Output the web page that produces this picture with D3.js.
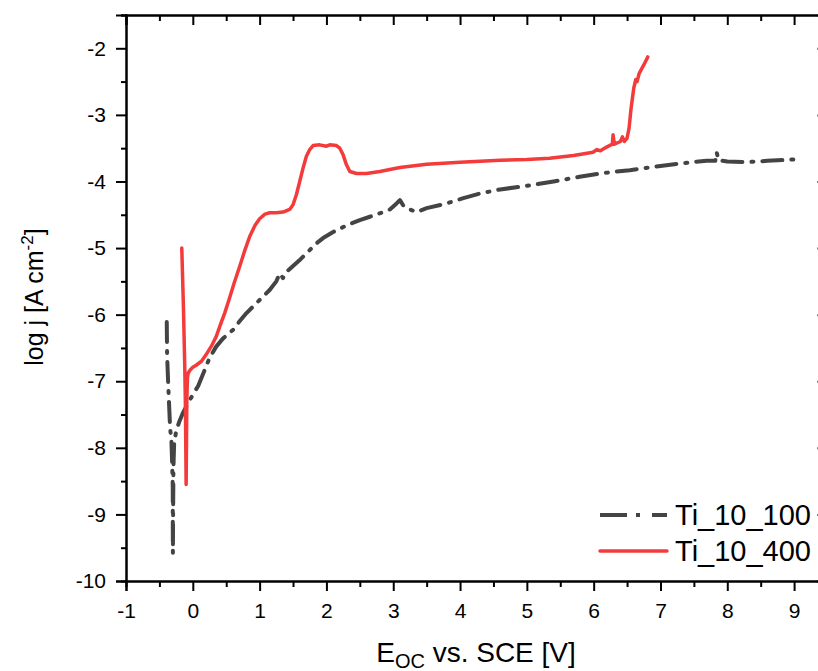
<!DOCTYPE html>
<html>
<head>
<meta charset="utf-8">
<script src="https://cdn.jsdelivr.net/npm/d3@7"></script>
<style>
  body { margin: 0; background: #fff; }
  svg { display: block; font-family: "Liberation Sans", Arial, sans-serif; }
</style>
</head>
<body>
<svg id="chart" width="818" height="671"></svg>
<script>
// Ti_10_100 (dash-dot grey)
const ti100X = [-0.39, -0.385, -0.37, -0.355, -0.34, -0.32, -0.31, -0.30, -0.30, -0.298, -0.295, -0.29, -0.28, -0.25, -0.2, -0.15, -0.05, 0.08, 0.17, 0.25, 0.35, 0.45, 0.6, 0.7, 0.8, 0.9, 1.0, 1.15, 1.25, 1.3, 1.35, 1.4, 1.5, 1.6, 1.7, 1.85, 1.95, 2.1, 2.3, 2.5, 2.65, 2.85, 2.95, 3.05, 3.1, 3.15, 3.25, 3.35, 3.5, 3.8, 4.05, 4.3, 4.6, 5.04, 5.4, 5.79, 6.1, 6.54, 6.9, 7.29, 7.69, 7.82, 7.84, 7.87, 8.0, 8.29, 8.6, 8.99];
const ti100Y = [-6.11, -6.6, -7.0, -7.35, -7.7, -7.9, -8.2, -8.6, -9.0, -9.58, -9.0, -8.3, -7.95, -7.75, -7.6, -7.48, -7.29, -7.07, -6.85, -6.65, -6.48, -6.36, -6.23, -6.1, -5.98, -5.88, -5.78, -5.63, -5.5, -5.38, -5.45, -5.36, -5.27, -5.18, -5.08, -4.93, -4.85, -4.76, -4.66, -4.58, -4.53, -4.46, -4.42, -4.33, -4.28, -4.36, -4.42, -4.46, -4.4, -4.33, -4.25, -4.18, -4.12, -4.06, -4.0, -3.93, -3.88, -3.83, -3.78, -3.73, -3.69, -3.69, -3.56, -3.68, -3.7, -3.71, -3.69, -3.67];

// Ti_10_400 (solid red)
const ti400X = [-0.165, -0.14, -0.12, -0.11, -0.105, -0.10, -0.095, -0.09, -0.08, -0.07, -0.04, 0.0, 0.05, 0.13, 0.2, 0.28, 0.35, 0.42, 0.48, 0.55, 0.62, 0.7, 0.78, 0.85, 0.93, 1.0, 1.08, 1.15, 1.25, 1.35, 1.45, 1.5, 1.55, 1.6, 1.65, 1.7, 1.75, 1.8, 1.9, 2.0, 2.05, 2.15, 2.2, 2.25, 2.3, 2.35, 2.45, 2.6, 2.8, 3.1, 3.5, 4.0, 4.6, 5.0, 5.34, 5.7, 5.99, 6.05, 6.1, 6.2, 6.28, 6.29, 6.31, 6.4, 6.43, 6.46, 6.5, 6.53, 6.56, 6.6, 6.63, 6.65, 6.68, 6.75, 6.81];
const ti400Y = [-5.0, -5.9, -6.8, -7.4, -8.0, -8.55, -8.0, -7.3, -6.95, -6.88, -6.83, -6.79, -6.76, -6.7, -6.6, -6.47, -6.33, -6.13, -5.97, -5.75, -5.52, -5.28, -5.03, -4.83, -4.66, -4.56, -4.49, -4.47, -4.47, -4.46, -4.42, -4.35, -4.2, -4.0, -3.8, -3.62, -3.52, -3.46, -3.45, -3.47, -3.45, -3.46, -3.5, -3.6, -3.75, -3.85, -3.88, -3.88, -3.85, -3.79, -3.74, -3.71, -3.68, -3.67, -3.65, -3.61, -3.56, -3.52, -3.54, -3.48, -3.44, -3.3, -3.44, -3.4, -3.33, -3.4, -3.35, -3.2, -2.9, -2.6, -2.47, -2.5, -2.38, -2.25, -2.13];

const xMajor = [-1, 0, 1, 2, 3, 4, 5, 6, 7, 8, 9];
const xMinor = [-0.5, 0.5, 1.5, 2.5, 3.5, 4.5, 5.5, 6.5, 7.5, 8.5, 9.5];
const yMajor = [-10, -9, -8, -7, -6, -5, -4, -3, -2];
const yMinor = [-9.5, -8.5, -7.5, -6.5, -5.5, -4.5, -3.5, -2.5, -1.5];

const seriesNames = ["Ti_10_100", "Ti_10_400"];

const svg = d3.select("#chart");
const margin = { top: 15, left: 126 };
const width = 827.5 - margin.left;
const height = 581 - margin.top;

const x = d3.scaleLinear().domain([-1, 9.5]).range([0, width]);
const y = d3.scaleLinear().domain([-10, -1.5]).range([height, 0]);

const g = svg.append("g")
  .attr("transform", "translate(" + margin.left + "," + margin.top + ")");

const series = [
  { name: seriesNames[0], xs: ti100X, ys: ti100Y, color: "#444444", width: 4, dash: "20,9,2,9" },
  { name: seriesNames[1], xs: ti400X, ys: ti400Y, color: "#f33b3b", width: 3.5, dash: null }
];

const line = d3.line()
  .x(d => x(d[0]))
  .y(d => y(d[1]));

series.forEach(s => {
  const pts = s.xs.map((v, i) => [v, s.ys[i]]);
  g.append("path")
    .datum(pts)
    .attr("fill", "none")
    .attr("stroke", s.color)
    .attr("stroke-width", s.width)
    .attr("stroke-linejoin", "round")
    .attr("stroke-linecap", "round")
    .attr("stroke-dasharray", s.dash)
    .attr("d", line);
});

// plain hyphen minus, like the original
const fmt = d => String(d);

function styleAxis(sel) {
  sel.select(".domain").attr("stroke", "#000").attr("stroke-width", 2);
  sel.selectAll(".tick line").attr("stroke", "#000").attr("stroke-width", 2);
  sel.selectAll(".tick text").attr("fill", "#000").style("font-size", "21px");
}

g.append("g")
  .attr("transform", "translate(0," + height + ")")
  .call(d3.axisBottom(x).tickValues(xMinor).tickSize(6).tickFormat(""))
  .call(styleAxis);
g.append("g")
  .attr("transform", "translate(0," + height + ")")
  .call(d3.axisBottom(x).tickValues(xMajor).tickSize(10).tickPadding(12).tickFormat(fmt))
  .call(styleAxis);

g.append("g")
  .call(d3.axisLeft(y).tickValues(yMinor).tickSize(5).tickFormat(""))
  .call(styleAxis);
g.append("g")
  .call(d3.axisLeft(y).tickValues(yMajor).tickSize(10).tickPadding(10).tickFormat(fmt))
  .call(styleAxis);

g.append("g")
  .call(d3.axisTop(x).tickValues(xMinor).tickSize(-6).tickFormat(""))
  .call(styleAxis);
g.append("g")
  .call(d3.axisTop(x).tickValues(xMajor).tickSize(-10).tickFormat(""))
  .call(styleAxis);

g.append("g")
  .attr("transform", "translate(" + width + ",0)")
  .call(d3.axisRight(y).tickValues(yMinor).tickSize(-6).tickFormat(""))
  .call(styleAxis);
g.append("g")
  .attr("transform", "translate(" + width + ",0)")
  .call(d3.axisRight(y).tickValues(yMajor).tickSize(-10).tickFormat(""))
  .call(styleAxis);

// axis titles
const xt = svg.append("text")
  .attr("x", 476)
  .attr("y", 662)
  .attr("text-anchor", "middle")
  .style("font-size", "28px")
  .attr("fill", "#000");
xt.append("tspan").text("E");
xt.append("tspan").attr("dy", 6).style("font-size", "20px").text("OC");
xt.append("tspan").attr("dy", -6).text(" vs. SCE [V]");

const yt = svg.append("text")
  .attr("transform", "translate(43,297) rotate(-90)")
  .attr("text-anchor", "middle")
  .style("font-size", "25px")
  .attr("fill", "#000");
yt.append("tspan").text("log j [A cm");
yt.append("tspan").attr("dy", -10).style("font-size", "17px").text("-2");
yt.append("tspan").attr("dy", 10).text("]");

// legend
const legend = svg.append("g").attr("transform", "translate(599,515)");
series.forEach((s, i) => {
  const row = legend.append("g").attr("transform", "translate(0," + i * 36 + ")");
  row.append("line")
    .attr("x1", 1).attr("x2", 68)
    .attr("stroke", s.color)
    .attr("stroke-width", s.width)
    .attr("stroke-linecap", s.dash ? "butt" : "round")
    .attr("stroke-dasharray", s.dash ? "27,9,4,12,40" : null);
  row.append("text")
    .attr("x", 76)
    .attr("dy", "0.36em")
    .style("font-size", "29px")
    .attr("fill", "#000")
    .text(s.name);
});
</script>
</body>
</html>
